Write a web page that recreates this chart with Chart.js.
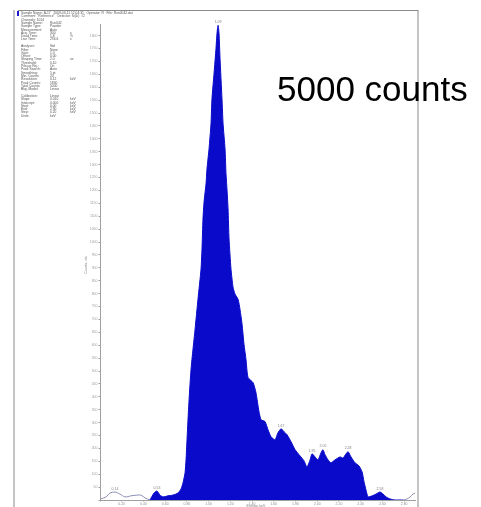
<!DOCTYPE html>
<html>
<head>
<meta charset="utf-8">
<script src="https://cdn.jsdelivr.net/npm/chart.js@4"></script>
<style>
  body { margin: 0; background: #fff; }
  canvas { display: block; }
</style>
</head>
<body>
<canvas id="spectrum" width="481" height="507"></canvas>
<script>
// low-energy tail (drawn as a thin line only)
const tailLeftX = [0.009, 0.055, 0.092, 0.138, 0.184, 0.230, 0.285, 0.341, 0.378, 0.414, 0.460]
const tailLeftY = [4, 12, 27, 31, 23, 12, 16, 19, 19, 8, 0]

// main filled spectrum
const specX = [
  0.460, 0.497, 0.525, 0.552, 0.580, 0.626, 0.672, 0.718, 0.746, 0.764,
  0.783, 0.792, 0.801, 0.810, 0.820, 0.838, 0.856, 0.875, 0.902, 0.930,
  0.939, 0.948, 0.958, 0.976, 0.985, 1.004, 1.022, 1.031, 1.050, 1.068,
  1.077, 1.087, 1.096, 1.105, 1.123, 1.133, 1.151, 1.160, 1.169, 1.179,
  1.188, 1.206, 1.225, 1.243, 1.271, 1.289, 1.308, 1.326, 1.344, 1.363,
  1.409, 1.436, 1.464, 1.483, 1.519, 1.547, 1.575, 1.611, 1.639, 1.667,
  1.694, 1.722, 1.759, 1.796, 1.842, 1.878, 1.906, 1.934, 1.952, 1.980,
  2.007, 2.035, 2.053, 2.072, 2.099, 2.127, 2.164, 2.210, 2.238, 2.265,
  2.284, 2.311, 2.348, 2.385, 2.413, 2.431, 2.449, 2.468, 2.505, 2.541,
  2.578, 2.606, 2.634, 2.670, 2.716, 2.790
]
const specY = [
  0, 27, 35, 19, 12, 16, 19, 27, 43, 66,
  105, 156, 233, 311, 389, 506, 584, 661, 778, 895,
  973, 1089, 1156, 1226, 1284, 1362, 1459, 1556, 1654, 1751,
  1809, 1840, 1809, 1712, 1556, 1459, 1362, 1265, 1206, 1128,
  1012, 895, 825, 798, 778, 739, 681, 603, 545, 475,
  455, 416, 342, 311, 304, 272, 245, 233, 261, 276,
  265, 253, 226, 195, 171, 152, 128, 156, 179, 167,
  156, 183, 195, 175, 156, 144, 156, 167, 163, 179,
  187, 167, 144, 132, 109, 70, 39, 12, 16, 23,
  31, 23, 12, 4, 0, 0
]

// high-energy tail
const tailRightX = [2.790, 2.827, 2.855, 2.882, 2.900]
const tailRightY = [0, 4, 12, 23, 27]

// labelled peaks
const peakX = [0.138, 0.525, 1.087, 1.667, 1.952, 2.053, 2.284, 2.578]
const peakY = [31, 35, 1840, 276, 179, 195, 187, 31]

// parameter block printed at the top left
const headerLines = [
  'Sample Name: A-17   2009-03-11 12:04:31   Operator: R   File: Run0042.dat',
  'Comment: "Reference"   Detector: Si(Li)  #2',
  'Channels: 1024'
]
const paramBlocks = [
  [['Sample Name:', 'Run042', ''], ['Sample Type:', 'Powder', ''], ['Measurement:', 'Auto', ''],
   ['Acq. Time:', '300', 's'], ['Dead Time:', '1.8', '%'], ['Live Time:', '294.6', 's']],
  [['Analyser:', 'Std', ''], ['Filter:', 'None', ''], ['Gain:', '1.0', ''], ['Offset:', '0.00', ''],
   ['Shaping Time:', '2.0', 'us'], ['Threshold:', '0.10', ''], ['Pile-up Rej.:', 'On', ''],
   ['Peak Search:', 'Auto', ''], ['Smoothing:', '5 pt', ''], ['Min. Counts:', '20', ''],
   ['Resolution:', '0.12', 'keV'], ['Peak Counts:', '1840', ''], ['Total Counts:', '5000', ''],
   ['Bkg. Model:', 'Linear', '']],
  [['Calibration:', 'Linear', ''], ['Slope:', '0.010', 'keV'], ['Intercept:', '0.000', 'keV'],
   ['Start:', '0.00', 'keV'], ['End:', '2.90', 'keV'], ['Step:', '0.20', 'keV'], ['Units:', 'keV', '']]
]

const pts = (xs, ys) => xs.map((x, i) => ({ x: x, y: ys[i] }))

const tinyFont = { family: 'Liberation Sans', size: 3.5 }

const decorations = {
  id: 'decorations',
  afterDraw(chart) {
    const c = chart.ctx
    const xs = chart.scales.x
    const ys = chart.scales.y
    c.save()

    // page frame
    c.strokeStyle = '#c4c4c4'
    c.lineWidth = 2
    c.beginPath()
    c.moveTo(14, 507); c.lineTo(14, 10)
    c.moveTo(418, 10); c.lineTo(418, 507)
    c.stroke()
    c.strokeStyle = '#8a8a8a'
    c.lineWidth = 1.2
    c.beginPath()
    c.moveTo(18, 10.5); c.lineTo(418, 10.5)
    c.stroke()

    // blue marker by the title
    c.fillStyle = '#1a1acc'
    c.fillRect(17, 11, 2, 5)

    // header text
    c.fillStyle = '#555'
    c.font = '3.3px "Liberation Sans"'
    c.textBaseline = 'middle'
    c.textAlign = 'left'
    headerLines.forEach((t, i) => c.fillText(t, 21, 13 + i * 3.4))
    let y = 23
    paramBlocks.forEach(block => {
      block.forEach(row => {
        c.fillText(row[0], 21, y)
        c.fillText(row[1], 50, y)
        if (row[2]) c.fillText(row[2], 70, y)
        y += 3.3
      })
      y += 3.5
    })

    // peak position labels
    c.fillStyle = '#808080'
    c.font = '3.5px "Liberation Sans"'
    c.textAlign = 'center'
    c.textBaseline = 'bottom'
    peakX.forEach((px, i) => {
      c.fillText(px.toFixed(2), xs.getPixelForValue(px), ys.getPixelForValue(peakY[i]) - 1.5)
    })

    // axis titles
    c.fillStyle = '#808080'
    c.textBaseline = 'middle'
    c.fillText('Energy, keV', 256, 506)
    c.translate(86, 265)
    c.rotate(-Math.PI / 2)
    c.fillText('Counts, cts', 0, 0)
    c.restore()

    // annotation
    c.save()
    c.fillStyle = '#000'
    c.font = '35px "Liberation Sans"'
    c.textAlign = 'left'
    c.textBaseline = 'alphabetic'
    c.fillText('5000 counts', 277, 101)
    c.restore()
  }
}

const config = {
  type: 'line',
  data: {
    datasets: [{
      data: pts(specX, specY),
      borderColor: '#0a0acb',
      backgroundColor: '#0a0acb',
      borderWidth: 1,
      fill: 'origin',
      pointRadius: 0,
      tension: 0.2
    }, {
      data: pts(tailLeftX, tailLeftY),
      borderColor: '#8c90b4',
      borderWidth: 1,
      fill: false,
      pointRadius: 0,
      tension: 0.3
    }, {
      data: pts(tailRightX, tailRightY),
      borderColor: '#8c90b4',
      borderWidth: 1,
      fill: false,
      pointRadius: 0,
      tension: 0.3
    }]
  },
  options: {
    responsive: false,
    animation: false,
    devicePixelRatio: 1,
    layout: { padding: { left: 0, right: 66, top: 24, bottom: 0 } },
    plugins: { legend: { display: false }, tooltip: { enabled: false } },
    scales: {
      x: {
        type: 'linear',
        min: 0,
        max: 2.9,
        afterFit: s => { s.height = 7 },
        border: { display: true, color: '#a0a0a0', width: 1 },
        grid: { drawOnChartArea: false, drawTicks: true, tickLength: 1.5, color: '#a0a0a0' },
        ticks: {
          stepSize: 0.2,
          includeBounds: false,
          padding: 0.5,
          maxRotation: 0,
          autoSkip: false,
          color: '#909090',
          font: tinyFont,
          callback: v => v === 0 ? '' : v.toFixed(2)
        }
      },
      y: {
        min: 0,
        max: 1845,
        afterFit: s => { s.width = 100 },
        border: { display: true, color: '#a0a0a0', width: 1 },
        grid: { drawOnChartArea: false, drawTicks: true, tickLength: 1.5, color: '#a0a0a0' },
        ticks: {
          stepSize: 50,
          includeBounds: false,
          padding: 1,
          autoSkip: false,
          color: '#a0a0a0',
          font: tinyFont,
          callback: v => v === 0 ? '' : String(v)
        }
      }
    }
  },
  plugins: [decorations]
}

new Chart(document.getElementById('spectrum'), config)
</script>
</body>
</html>
